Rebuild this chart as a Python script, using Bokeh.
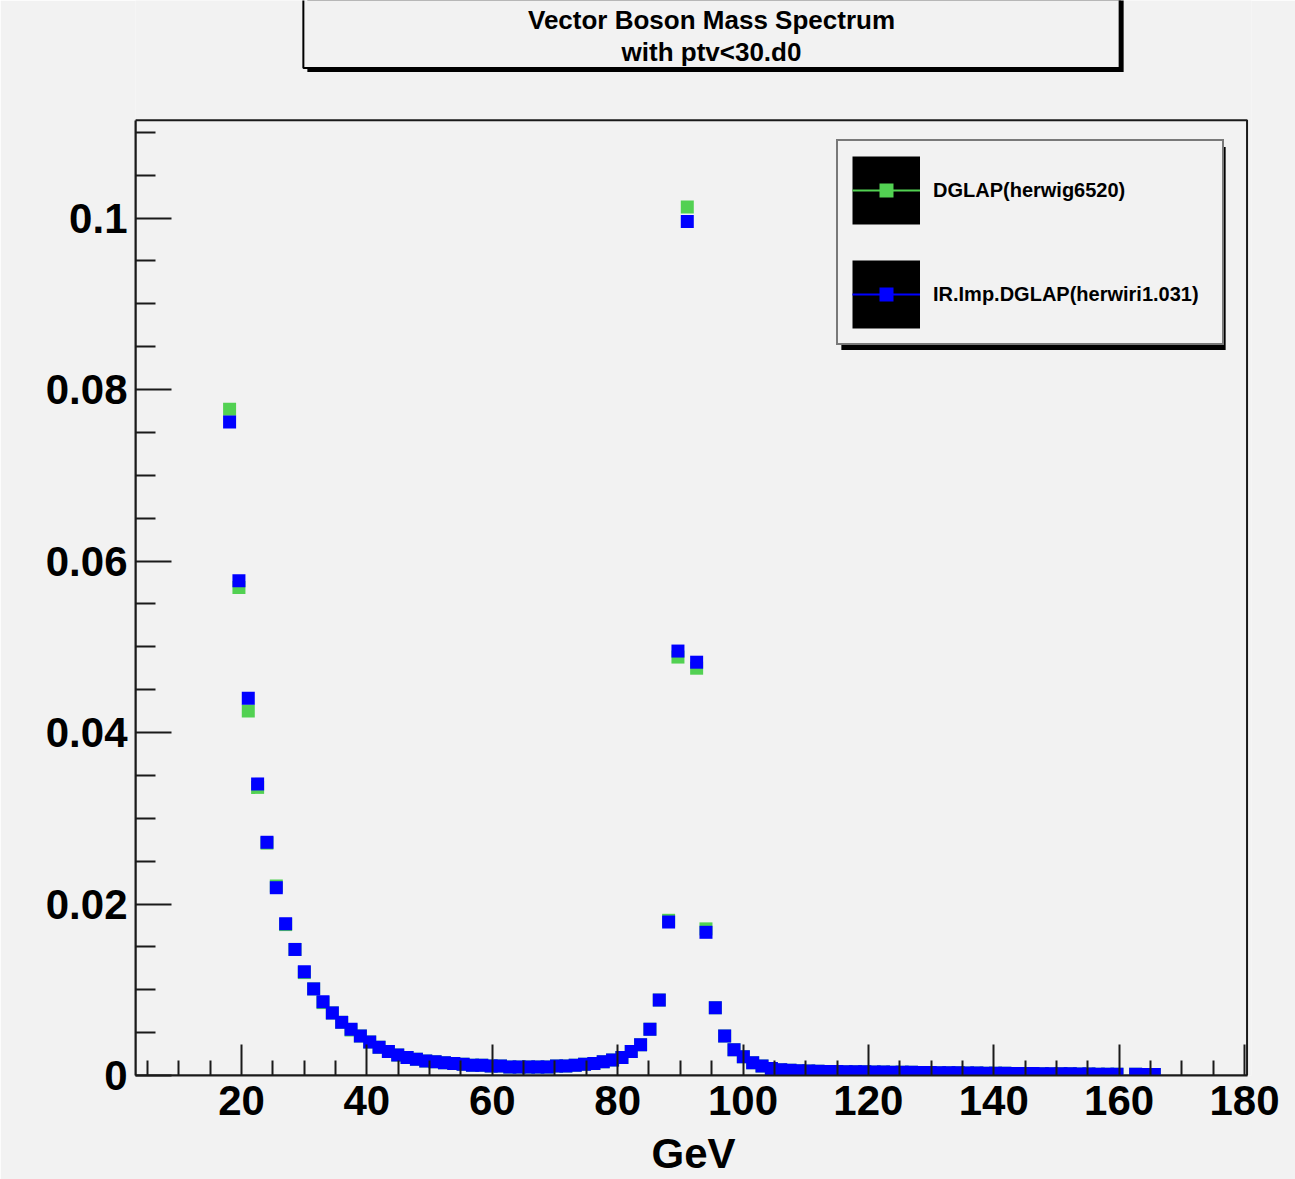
from bokeh.plotting import figure
from bokeh.models import (BoxAnnotation, ColumnDataSource, FixedTicker, Label, Legend,
                          LegendItem, Range1d)
from bokeh.embed import file_html
from bokeh.resources import INLINE

# ---------------- data ----------------
mass_gev = [18.10, 19.59, 21.08, 22.57, 24.06, 25.55, 27.04, 28.53, 30.02, 31.51,
            33.00, 34.49, 35.98, 37.47, 38.96, 40.45, 41.94, 43.43, 44.92, 46.41,
            47.90, 49.39, 50.88, 52.37, 53.86, 55.35, 56.84, 58.33, 59.82, 61.31,
            62.80, 64.29, 65.78, 67.27, 68.76, 70.25, 71.74, 73.23, 74.72, 76.21,
            77.70, 79.19, 80.68, 82.17, 83.66, 85.15, 86.64, 88.13, 89.62, 91.11,
            92.60, 94.09, 95.58, 97.07, 98.56, 100.05, 101.54, 103.03, 104.52, 106.01,
            107.50, 108.99, 110.48, 111.97, 113.46, 114.95, 116.44, 117.93, 119.42, 120.91,
            122.40, 123.89, 125.38, 126.87, 128.36, 129.85, 131.34, 132.83, 134.32, 135.81,
            137.30, 138.79, 140.28, 141.77, 143.26, 144.75, 146.24, 147.73, 149.22, 150.71,
            152.20, 153.69, 155.18, 156.67, 158.16, 159.65, 162.63, 164.12, 165.61]

dglap_herwig6520 = [0.0777, 0.0569, 0.0425, 0.0336, 0.0271, 0.0221, 0.0176, 0.0147, 0.0120, 0.0101,
                    0.0085, 0.0073, 0.0062, 0.0053, 0.0046, 0.0039, 0.0033, 0.0028, 0.0024, 0.0021,
                    0.0019, 0.0017, 0.0016, 0.0015, 0.0014, 0.0013, 0.0012, 0.0012, 0.0011, 0.0011,
                    0.0010, 0.0010, 0.0010, 0.0010, 0.0010, 0.0011, 0.0011, 0.0012, 0.0013, 0.0014,
                    0.0016, 0.0018, 0.0021, 0.0028, 0.0036, 0.0054, 0.0088, 0.0181, 0.0488, 0.1013,
                    0.0475, 0.0171, 0.0079, 0.0046, 0.0030, 0.0022, 0.0015, 0.0011, 0.00083, 0.00068,
                    0.00061, 0.00056, 0.00052, 0.00049, 0.00047, 0.00046, 0.00045, 0.00044, 0.00043, 0.00041,
                    0.00040, 0.00039, 0.00038, 0.00037, 0.00036, 0.00034, 0.00033, 0.00032, 0.00031, 0.00030,
                    0.00029, 0.00027, 0.00026, 0.00025, 0.00024, 0.00023, 0.00022, 0.00021, 0.00020, 0.00020,
                    0.00019, 0.00018, 0.00017, 0.00016, 0.00015, 0.00014, 0.00014, 0.00013, 0.00013]

irimp_dglap_herwiri1031 = [0.0762, 0.0577, 0.0440, 0.0340, 0.0272, 0.0219, 0.0177, 0.0147, 0.0121, 0.0101,
                           0.0086, 0.0073, 0.0062, 0.0054, 0.0046, 0.0039, 0.0033, 0.0028, 0.0024, 0.0021,
                           0.0019, 0.0017, 0.0016, 0.0015, 0.0014, 0.0013, 0.0012, 0.0012, 0.0011, 0.0011,
                           0.0010, 0.0010, 0.0010, 0.0010, 0.0010, 0.0011, 0.0011, 0.0012, 0.0013, 0.0014,
                           0.0016, 0.0018, 0.0021, 0.0028, 0.0036, 0.0054, 0.0088, 0.0179, 0.0495, 0.0996,
                           0.0482, 0.0167, 0.0079, 0.0046, 0.0030, 0.0022, 0.0015, 0.0011, 0.00083, 0.00068,
                           0.00061, 0.00056, 0.00052, 0.00049, 0.00047, 0.00046, 0.00045, 0.00044, 0.00043, 0.00041,
                           0.00040, 0.00039, 0.00038, 0.00037, 0.00036, 0.00034, 0.00033, 0.00032, 0.00031, 0.00030,
                           0.00029, 0.00027, 0.00026, 0.00025, 0.00024, 0.00023, 0.00022, 0.00021, 0.00020, 0.00020,
                           0.00019, 0.00018, 0.00017, 0.00016, 0.00015, 0.00014, 0.00014, 0.00013, 0.00013]

series_names = ["DGLAP(herwig6520)", "IR.Imp.DGLAP(herwiri1.031)"]
series_colors = ["#52d152", "#0000ff"]

x_major_ticks = [20, 40, 60, 80, 100, 120, 140, 160, 180]
x_minor_ticks = [5, 10, 15, 25, 30, 35, 45, 50, 55, 65, 70, 75, 85, 90, 95, 105, 110, 115,
                 125, 130, 135, 145, 150, 155, 165, 170, 175]
y_major_ticks = [0, 0.02, 0.04, 0.06, 0.08, 0.1]
y_tick_labels = ["0", "0.02", "0.04", "0.06", "0.08", "0.1"]
y_minor_ticks = [0.005, 0.01, 0.015, 0.025, 0.03, 0.035, 0.045, 0.05, 0.055, 0.065, 0.07,
                 0.075, 0.085, 0.09, 0.095, 0.105, 0.11]

title_lines = ["Vector Boson Mass Spectrum", "with ptv<30.d0"]
x_axis_title = "GeV"

# axis extents of the plot box
x_lo, x_hi = 3.09, 180.4
y_lo, y_hi = 0.0, 0.1114

FONT = "Liberation Sans"
BG = "#f2f2f2"
INK = "#1a1a1a"

# ---------------- figure ----------------
# the frame reaches the top of the canvas so that the title box can live inside it
p = figure(width=1295, height=1179,
           x_range=Range1d(x_lo, 181.11), y_range=Range1d(y_lo, 0.12537),
           output_backend="svg", toolbar_location=None,
           min_border_left=135, min_border_right=44,
           min_border_top=0, min_border_bottom=102)
p.background_fill_color = BG
p.border_fill_color = BG
p.outline_line_color = None
p.xgrid.visible = False
p.ygrid.visible = False

# plot box (ROOT frame)
p.add_layout(BoxAnnotation(left=x_lo, right=x_hi, bottom=y_lo, top=y_hi,
                           fill_color=None, fill_alpha=0.0,
                           line_color=INK, line_alpha=1.0, line_width=2, level="underlay"))

# x axis
xa = p.xaxis[0]
xa.bounds = (x_lo, x_hi)
xa.ticker = FixedTicker(ticks=x_major_ticks, minor_ticks=x_minor_ticks)
xa.axis_line_color = INK
xa.axis_line_width = 2
xa.major_tick_in = 31
xa.major_tick_out = 0
xa.minor_tick_in = 15
xa.minor_tick_out = 0
xa.major_tick_line_color = INK
xa.minor_tick_line_color = INK
xa.major_tick_line_width = 2
xa.minor_tick_line_width = 2
xa.major_label_text_font = FONT
xa.major_label_text_font_style = "bold"
xa.major_label_text_font_size = "42px"
xa.major_label_text_color = "black"
xa.major_label_standoff = 10
xa.axis_label = x_axis_title
xa.axis_label_text_font = FONT
xa.axis_label_text_font_style = "bold"
xa.axis_label_text_font_size = "42px"
xa.axis_label_text_color = "black"
xa.axis_label_standoff = 12

# y axis
ya = p.yaxis[0]
ya.bounds = (y_lo, y_hi)
ya.ticker = FixedTicker(ticks=y_major_ticks, minor_ticks=y_minor_ticks)
ya.major_label_overrides = {t: lab for t, lab in zip(y_major_ticks, y_tick_labels)}
ya.axis_line_color = INK
ya.axis_line_width = 2
ya.major_tick_in = 36
ya.major_tick_out = 0
ya.minor_tick_in = 20
ya.minor_tick_out = 0
ya.major_tick_line_color = INK
ya.minor_tick_line_color = INK
ya.major_tick_line_width = 2
ya.minor_tick_line_width = 2
ya.major_label_text_font = FONT
ya.major_label_text_font_style = "bold"
ya.major_label_text_font_size = "42px"
ya.major_label_text_color = "black"
ya.major_label_standoff = 8

# ---------------- data markers ----------------
sources = [ColumnDataSource(dict(x=mass_gev, y=dglap_herwig6520)),
           ColumnDataSource(dict(x=mass_gev, y=irimp_dglap_herwiri1031))]

for src, col in zip(sources, series_colors):
    p.scatter("x", "y", source=src, marker="square", size=13,
              fill_color=col, line_color=None)

# ---------------- legend (legend-only renderers) ----------------
items = []
for src, col, name in zip(sources, series_colors, series_names):
    box = p.scatter("x", "y", source=src, marker="square", size=13,
                    fill_color="black", line_color="black", line_width=40.8,
                    line_join="miter", visible=False)
    mk = p.scatter("x", "y", source=src, marker="square", size=13,
                   fill_color=col, line_color="black", line_width=13.2,
                   line_join="miter", visible=False)
    ln = p.line("x", "y", source=src, line_color=col, line_width=2, visible=False)
    items.append(LegendItem(label=name, renderers=[box, mk, ln]))

legend_shadow = Label(x=898, y=827, x_units="screen", y_units="screen", text=" ",
                      text_font_size="1px", text_align="center", text_baseline="middle",
                      background_fill_color="black", background_fill_alpha=1.0,
                      padding=dict(left=192, right=192, top=101, bottom=101))
p.add_layout(legend_shadow)

legend = Legend(items=items, location=(701, 730), orientation="vertical",
                glyph_width=68, glyph_height=70, padding=14, spacing=34,
                label_standoff=13, label_width=275, margin=0,
                label_text_font=FONT, label_text_font_style="bold",
                label_text_font_size="20px", label_text_color="black",
                border_line_color="black", border_line_width=2,
                background_fill_color=BG, background_fill_alpha=1.0)
p.add_layout(legend)

# ---------------- title box ----------------
title_shadow = Label(x=580, y=1049, x_units="screen", y_units="screen", text=" ",
                     text_font_size="1px", text_align="center", text_baseline="middle",
                     background_fill_color="black", background_fill_alpha=1.0,
                     padding=dict(left=408, right=408, top=45, bottom=45))
p.add_layout(title_shadow)
title_box = Label(x=576, y=1053, x_units="screen", y_units="screen", text=" ",
                  text_font_size="1px", text_align="center", text_baseline="middle",
                  background_fill_color=BG, background_fill_alpha=1.0,
                  border_line_color="black", border_line_width=2,
                  padding=dict(left=408, right=408, top=45, bottom=45))
p.add_layout(title_box)
for txt, yy in zip(title_lines, [1055.5, 1023.5]):
    p.add_layout(Label(x=576, y=yy, x_units="screen", y_units="screen", text=txt,
                       text_font=FONT, text_font_style="bold", text_font_size="26px",
                       text_color="black", text_align="center", text_baseline="alphabetic"))

open("out.html", "w").write(file_html(p, INLINE))
